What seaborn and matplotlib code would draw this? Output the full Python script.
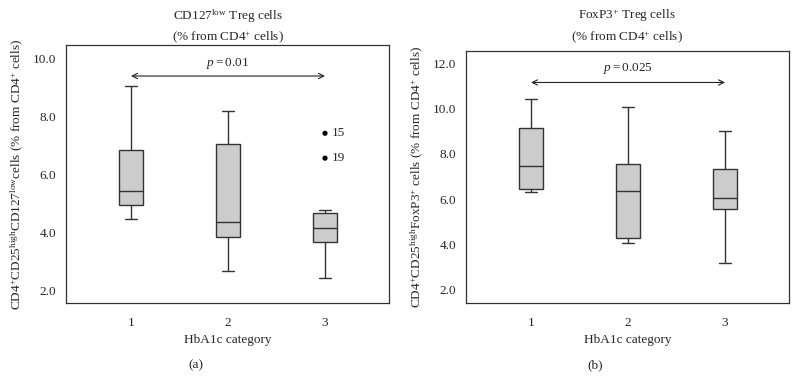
import numpy as np
import pandas as pd
import seaborn as sns
import matplotlib
matplotlib.use("Agg")
import matplotlib.pyplot as plt

# HbA1c categories
categories = ["1", "2", "3"]

# five-number summaries (min, Q1, median, Q3, max)
cd127_low = [4.45, 2.66, 2.41]
cd127_q1 = [4.93, 3.83, 3.65]
cd127_med = [5.41, 4.34, 4.13]
cd127_q3 = [6.83, 7.05, 4.65]
cd127_high = [9.06, 8.20, 4.75]

foxp3_low = [6.32, 4.09, 3.19]
foxp3_q1 = [6.44, 4.29, 5.56]
foxp3_med = [7.48, 6.38, 6.04]
foxp3_q3 = [9.15, 7.54, 7.35]
foxp3_high = [10.43, 10.09, 9.03]

# outliers in panel (a), category 3
outlier_cat = ["3", "3"]
outlier_val = [7.42, 6.56]
outlier_ids = ["15", "19"]


def summary_frame(lo, q1, med, q3, hi):
    rows = []
    for i, c in enumerate(categories):
        for v in (lo[i], q1[i], med[i], q3[i], hi[i]):
            rows.append({"cat": c, "val": v})
    return pd.DataFrame(rows)


sns.set_style("white")
plt.rcParams['font.family'] = ['Liberation Serif', 'DejaVu Serif']
plt.rcParams['mathtext.fontset'] = 'custom'
plt.rcParams['mathtext.rm'] = 'Liberation Serif'
plt.rcParams['mathtext.it'] = 'Liberation Serif:italic'
plt.rcParams['font.size'] = 9.5
plt.rcParams['axes.linewidth'] = 0.9

fig = plt.figure(figsize=(7.98, 3.92), dpi=100)
ax_a = fig.add_axes([0.0827, 0.227, 0.4048, 0.658])
ax_b = fig.add_axes([0.584, 0.228, 0.4048, 0.642])

box_kws = dict(x="cat", y="val", order=categories, whis=(0, 100), width=0.25,
               color="#cccccc", linecolor="#333333", linewidth=1.0, fliersize=0,
               saturation=1)

df_a = summary_frame(cd127_low, cd127_q1, cd127_med, cd127_q3, cd127_high)
sns.boxplot(data=df_a, ax=ax_a, **box_kws)
sns.scatterplot(x=outlier_cat, y=outlier_val, ax=ax_a, color="black", s=14,
                edgecolor="none")
for c, v, t in zip(outlier_cat, outlier_val, outlier_ids):
    ax_a.annotate(t, (categories.index(c), v), xytext=(5, 0),
                  textcoords="offset points", va="center", ha="left")

df_b = summary_frame(foxp3_low, foxp3_q1, foxp3_med, foxp3_q3, foxp3_high)
sns.boxplot(data=df_b, ax=ax_b, **box_kws)

panels = [
    (ax_a, (1.55, 10.47), [2, 4, 6, 8, 10], 9.4, 9.85, r"$p = 0.01$",
     r"CD127$^{\rm low}$ Treg cells",
     r"CD4$^{+}$CD25$^{\rm high}$CD127$^{\rm low}$cells (% from CD4$^{+}$ cells)",
     0.2856),
    (ax_b, (1.44, 12.54), [2, 4, 6, 8, 10, 12], 11.15, 11.75, r"$p = 0.025$",
     r"FoxP3$^{+}$ Treg cells",
     r"CD4$^{+}$CD25$^{\rm high}$FoxP3$^{+}$ cells (% from CD4$^{+}$ cells)",
     0.7856),
]

for ax, ylim, yt, arrow_y, p_y, p_txt, title, ylab, cx in panels:
    ax.set_xlim(-0.67, 2.66)
    ax.set_ylim(*ylim)
    ax.set_yticks(yt)
    ax.set_yticklabels(["%.1f" % v for v in yt])
    for s in ax.spines.values():
        s.set_visible(True)
        s.set_color("#333333")
    ax.tick_params(axis="both", direction="out", length=4, width=0.8,
                   color="#333333", labelsize=9.5, pad=3)
    ax.tick_params(axis="x", pad=6)
    ax.set_xlabel("HbA1c category", labelpad=4)
    ax.set_ylabel(ylab, labelpad=6)
    ax.annotate("", xy=(0, arrow_y), xytext=(2, arrow_y),
                arrowprops=dict(arrowstyle="<->", lw=0.8, color="#222222",
                                shrinkA=0, shrinkB=0))
    ax.text(1, p_y, p_txt, ha="center", va="center")
    # two-line heading above each panel
    fig.text(cx, 1 - 16 / 392, title, ha="center", va="center")
    fig.text(cx, 1 - 38 / 392, "(% from CD4$^{+}$ cells)", ha="center", va="center")

fig.text(0.2456, 0.067, "(a)", ha="center", va="center")
fig.text(0.7456, 0.067, "(b)", ha="center", va="center")

plt.savefig("out.png", dpi=100)
